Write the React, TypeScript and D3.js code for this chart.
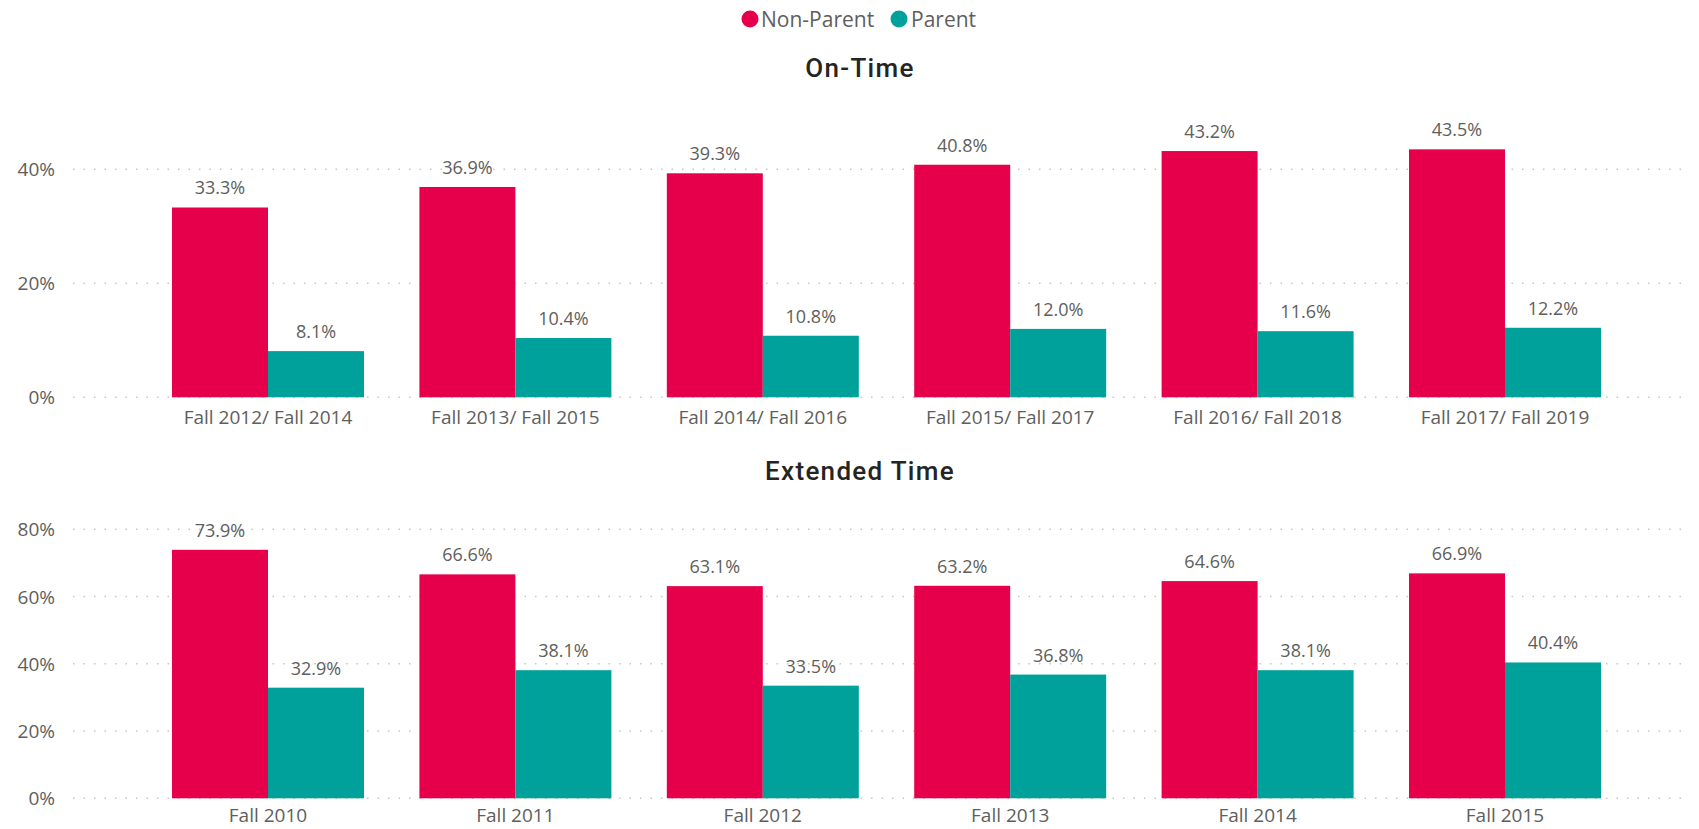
import React from "react";
import * as d3 from "d3";

const seriesNames = ["Non-Parent", "Parent"];
const seriesColors = ["#E6004C", "#00A19A"];

const onTimeCategories = [
  "Fall 2012/ Fall 2014",
  "Fall 2013/ Fall 2015",
  "Fall 2014/ Fall 2016",
  "Fall 2015/ Fall 2017",
  "Fall 2016/ Fall 2018",
  "Fall 2017/ Fall 2019",
];
const onTimeNonParent = [0.333, 0.369, 0.393, 0.408, 0.432, 0.435];
const onTimeParent = [0.081, 0.104, 0.108, 0.12, 0.116, 0.122];
const onTimeTicks = [0, 0.2, 0.4];

const extCategories = ["Fall 2010", "Fall 2011", "Fall 2012", "Fall 2013", "Fall 2014", "Fall 2015"];
const extNonParent = [0.739, 0.666, 0.631, 0.632, 0.646, 0.669];
const extParent = [0.329, 0.381, 0.335, 0.368, 0.381, 0.404];
const extTicks = [0, 0.2, 0.4, 0.6, 0.8];

const W = 1699;
const H = 829;
const FONT = "'Segoe UI', 'Open Sans', sans-serif";
const LABEL_COLOR = "#605E5C";
const GRID_X0 = 73;
const GRID_X1 = 1687;

type PanelProps = {
  title: string;
  titleY: number;
  categories: string[];
  a: number[];
  b: number[];
  ticks: number[];
  yDomainMax: number;
  y0: number;
  y1: number;
  xLabelY: number;
};

function Panel({ title, titleY, categories, a, b, ticks, yDomainMax, y0, y1, xLabelY }: PanelProps) {
  const x = d3
    .scaleBand<string>()
    .domain(categories)
    .range([144.3, 1628.7])
    .paddingInner(0.224)
    .paddingOuter(0.112);
  const y = d3.scaleLinear().domain([0, yDomainMax]).range([y0, y1]);
  const inner = d3
    .scaleBand<string>()
    .domain(seriesNames)
    .range([0, x.bandwidth()]);
  const fmtTick = d3.format(".0%");
  const fmtLabel = d3.format(".1%");
  const series = [a, b];
  return (
    <g>
      <text
        x={860}
        y={titleY}
        textAnchor="middle"
        dominantBaseline="central"
        fontFamily="Roboto, sans-serif"
        fontWeight={500}
        fontSize={26}
        letterSpacing={1.3}
        fill="#252423"
      >
        {title}
      </text>
      {ticks.map((t) => (
        <g key={t}>
          <line
            x1={GRID_X0}
            x2={GRID_X1}
            y1={y(t)}
            y2={y(t)}
            stroke="#C8C6C4"
            strokeWidth={1.5}
            strokeDasharray="1.5 9"
          />
          <text
            x={55}
            y={y(t)}
            textAnchor="end"
            dominantBaseline="central"
            fontFamily={FONT}
            fontSize={19}
            fill={LABEL_COLOR}
          >
            {fmtTick(t)}
          </text>
        </g>
      ))}
      {categories.map((c, i) => (
        <g key={c}>
          {series.map((s, j) => {
            const bx = (x(c) ?? 0) + (inner(seriesNames[j]) ?? 0);
            const bw = inner.bandwidth();
            return (
              <g key={j}>
                <rect
                  x={bx}
                  y={y(s[i])}
                  width={bw}
                  height={y(0) - y(s[i])}
                  fill={seriesColors[j]}
                />
                <text
                  x={bx + bw / 2}
                  y={y(s[i]) - 20}
                  textAnchor="middle"
                  dominantBaseline="central"
                  fontFamily={FONT}
                  fontSize={18}
                  fill={LABEL_COLOR}
                >
                  {fmtLabel(s[i])}
                </text>
              </g>
            );
          })}
          <text
            x={(x(c) ?? 0) + x.bandwidth() / 2}
            y={xLabelY}
            textAnchor="middle"
            dominantBaseline="central"
            fontFamily={FONT}
            fontSize={19}
            fill={LABEL_COLOR}
          >
            {c}
          </text>
        </g>
      ))}
    </g>
  );
}

export default function App() {
  const legendItems = [
    { name: seriesNames[0], color: seriesColors[0], cx: 750, tx: 761 },
    { name: seriesNames[1], color: seriesColors[1], cx: 899, tx: 911 },
  ];
  return (
    <svg
      width={W}
      height={H}
      style={{ position: "absolute", left: 0, top: 0, background: "#fff" }}
    >
      {legendItems.map((l) => (
        <g key={l.name}>
          <circle cx={l.cx} cy={19} r={8.5} fill={l.color} />
          <text
            x={l.tx}
            y={19}
            dominantBaseline="central"
            fontFamily={FONT}
            fontSize={21}
            fill={LABEL_COLOR}
          >
            {l.name}
          </text>
        </g>
      ))}
      <Panel
        title="On-Time"
        titleY={68}
        categories={onTimeCategories}
        a={onTimeNonParent}
        b={onTimeParent}
        ticks={onTimeTicks}
        yDomainMax={0.5}
        y0={397.3}
        y1={112.3}
        xLabelY={417}
      />
      <Panel
        title="Extended Time"
        titleY={471}
        categories={extCategories}
        a={extNonParent}
        b={extParent}
        ticks={extTicks}
        yDomainMax={0.85}
        y0={798.3}
        y1={512.5}
        xLabelY={815}
      />
    </svg>
  );
}
